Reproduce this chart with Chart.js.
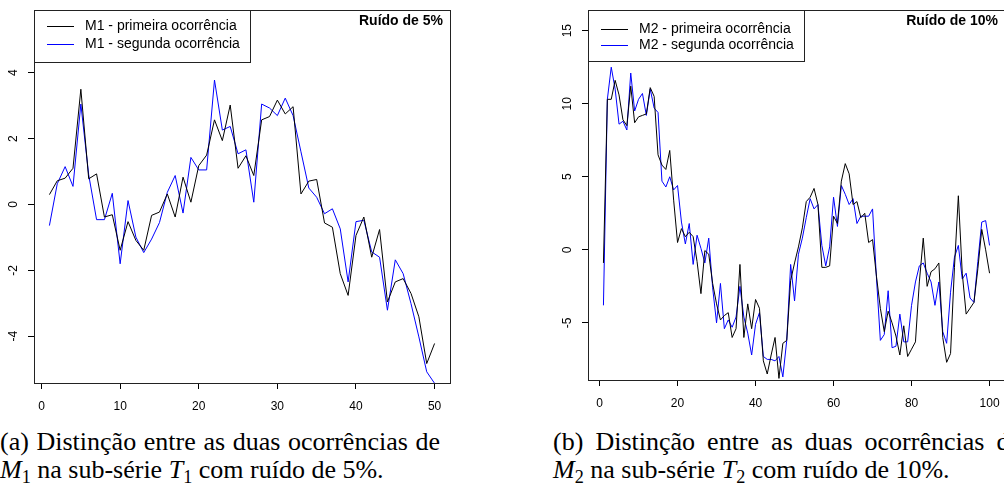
<!DOCTYPE html>
<html>
<head>
<meta charset="utf-8">
<script src="https://cdn.jsdelivr.net/npm/chart.js@4.4.1/dist/chart.umd.min.js"></script>
<style>
  body { margin: 0; width: 1004px; height: 489px; overflow: hidden; background: #fff; position: relative; }
  canvas { position: absolute; top: 0; }
  .cap { position: absolute; font-family: "Liberation Serif", "Times New Roman", serif; font-size: 26px; line-height: 28px; color: #000; }
  .cap sub { font-size: 70%; vertical-align: -0.25em; line-height: 0; }
  .j { text-align: justify; text-align-last: justify; }
</style>
</head>
<body>
<canvas id="c1" width="500" height="420" style="left:0"></canvas>
<canvas id="c2" width="500" height="420" style="left:520px"></canvas>

<div class="cap j" style="left:0;top:428px;width:440px">(a) Distinção entre as duas ocorrências de</div>
<div class="cap" style="left:0;top:456px;white-space:nowrap"><i>M</i><sub>1</sub> na sub-série <i>T</i><sub>1</sub> com ruído de 5%.</div>
<div class="cap j" style="left:553px;top:428px;width:468px">(b) Distinção entre as duas ocorrências de</div>
<div class="cap" style="left:553px;top:456px;white-space:nowrap"><i>M</i><sub>2</sub> na sub-série <i>T</i><sub>2</sub> com ruído de 10%.</div>

<script>
// ---- data ----
var xTicks1 = [0, 10, 20, 30, 40, 50];
var yTicks1 = [-4, -2, 0, 2, 4];
var m1First = [0.3, 0.72, 0.8, 1.1, 3.5, 0.78, 0.93, -0.38, -0.31, -1.39,
  -0.52, -1.09, -1.39, -0.33, -0.23, 0.32, -0.38, 0.83, 0.07, 1.18,
  1.5, 2.57, 1.94, 3.02, 1.1, 1.48, 0.88, 2.57, 2.67, 3.17,
  2.75, 2.97, 0.32, 0.71, 0.76, -0.56, -0.69, -2.1, -2.76, -0.94,
  -0.38, -1.6, -0.76, -2.96, -2.35, -2.25, -2.7, -3.41, -4.83, -4.22];
var m1Second = [-0.64, 0.63, 1.15, 0.55, 3.05, 0.9, -0.46, -0.46, 0.34, -1.8,
  0.12, -0.99, -1.46, -1.05, -0.55, 0.37, 0.88, -0.26, 1.43, 1.05,
  1.05, 3.78, 2.26, 2.37, 1.54, 1.66, 0.07, 3.05, 2.93, 2.7,
  3.23, 2.7, 1.6, 0.5, 0.22, -0.28, -0.13, -0.74, -2.35, -0.52,
  -0.48, -1.44, -1.6, -3.21, -1.68, -2.1, -3.01, -4.02, -5.08, -5.43];

var xTicks2 = [0, 20, 40, 60, 80, 100];
var yTicks2 = [-5, 0, 5, 10, 15];
var m2First = [-0.9, 10.3, 10.3, 11.6, 10.6, 8.9, 8.5, 11.2, 8.7, 9.1,
  9.2, 9.3, 11.1, 10.5, 6.5, 5.8, 5.5, 6.8, 3.4, 0.5,
  1.45, 0.9, 1.2, 0.9, -0.8, -3.0, -0.05, -0.3, -2.3, -3.7,
  -4.8, -4.5, -4.3, -6.0, -5.4, -1.0, -6.0, -3.7, -5.4, -3.4,
  -4.0, -7.6, -8.5, -7.2, -6.0, -8.8, -6.4, -6.2, -2.1, -0.9,
  0.2, 1.5, 3.3, 3.6, 4.2, 3.1, -1.2, -1.2, -1.1, 2.3,
  1.8, 4.7, 5.9, 5.2, 3.1, 3.3, 2.2, 2.5, 0.5, 0.7,
  -1.8, -4.0, -5.6, -4.2, -5.0, -5.9, -7.2, -5.2, -7.3, -6.8,
  -6.3, -2.2, 0.8, -2.5, -1.5, -1.3, -0.9, -6.0, -7.7, -7.1,
  -1.2, 3.7, -1.6, -4.4, -4.0, -3.6, -1.3, 1.4, 0.0, -1.6];
var m2Second = [-3.8, 10.3, 12.5, 11.0, 8.6, 8.8, 8.2, 12.1, 9.5, 10.3,
  10.7, 9.2, 11.0, 9.7, 9.4, 4.7, 4.3, 5.0, 4.1, 4.4,
  1.9, 0.4, 1.8, -1.0, 1.0, 0.1, -0.9, 0.8, -2.6, -5.0,
  -2.3, -5.4, -4.8, -5.3, -4.6, -2.5, -4.6, -5.7, -7.2, -5.1,
  -4.3, -7.3, -7.5, -7.5, -7.6, -7.3, -8.7, -6.2, -1.0, -3.5,
  -0.3, 0.8, 2.2, 3.5, 2.8, 3.1, 0.3, -1.1, 0.2, 3.6,
  1.6, 4.4, 3.8, 3.1, 3.5, 1.8, 2.3, 2.3, 2.3, 2.8,
  -1.9, -6.2, -5.8, -2.8, -6.7, -6.6, -4.4, -6.3, -6.3, -3.8,
  -2.2, -1.1, -0.9, -1.6, -2.2, -3.8, -2.2, -5.6, -6.4, -2.9,
  -0.5, 0.3, -2.0, -1.6, -3.3, -3.6, -0.8, 1.9, 2.0, 0.3];

var FONT = '"Liberation Sans", Arial, sans-serif';

function pts(arr) {
  return arr.map(function (v, i) { return { x: i + 1, y: v }; });
}

// box, rotated y labels, legend and title in the R style
var rFrame = {
  id: 'rFrame',
  afterDraw: function (chart, args, o) {
    var ctx = chart.ctx, a = chart.chartArea;
    var L = Math.round(a.left) + 0.5, T = Math.round(a.top) + 0.5;
    ctx.save();
    ctx.strokeStyle = '#222';
    ctx.lineWidth = 1;
    ctx.strokeRect(L, T, Math.round(a.right - a.left), Math.round(a.bottom - a.top));

    var ys = chart.scales.y;
    ctx.fillStyle = '#000';
    ctx.font = '12px ' + FONT;
    ctx.textAlign = 'center';
    ctx.textBaseline = 'middle';
    ys.ticks.forEach(function (t) {
      ctx.save();
      ctx.translate(o.labelX, ys.getPixelForValue(t.value));
      ctx.rotate(-Math.PI / 2);
      ctx.fillText(String(t.value), 0, 0);
      ctx.restore();
    });

    // legend
    ctx.fillStyle = '#fff';
    ctx.fillRect(L, T, o.legW, o.legH);
    ctx.strokeStyle = '#222';
    ctx.strokeRect(L, T, o.legW, o.legH);
    ctx.font = '14px ' + FONT;
    ctx.textAlign = 'left';
    chart.data.datasets.forEach(function (d, i) {
      var yy = Math.round(a.top + o.legY[i]) + 0.5;
      ctx.strokeStyle = d.borderColor;
      ctx.beginPath();
      ctx.moveTo(a.left + 13, yy);
      ctx.lineTo(a.left + 40, yy);
      ctx.stroke();
      ctx.fillStyle = '#000';
      ctx.fillText(d.label, a.left + 51, yy);
    });

    ctx.font = 'bold 14px ' + FONT;
    ctx.textAlign = 'right';
    ctx.fillText(o.title, a.right - 7, a.top + 11);
    ctx.restore();
  }
};

function makeChart(id, opt) {
  return new Chart(document.getElementById(id), {
    type: 'line',
    data: {
      datasets: [
        { label: opt.names[0], data: pts(opt.first), borderColor: '#000', borderWidth: 1, pointRadius: 0, tension: 0, fill: false },
        { label: opt.names[1], data: pts(opt.second), borderColor: '#0000ff', borderWidth: 1, pointRadius: 0, tension: 0, fill: false }
      ]
    },
    options: {
      responsive: false,
      animation: false,
      events: [],
      layout: { padding: opt.padding },
      plugins: {
        legend: { display: false },
        tooltip: { enabled: false },
        rFrame: { labelX: opt.labelX, legW: 216, legH: opt.legH, legY: opt.legY, title: opt.title }
      },
      scales: {
        x: {
          type: 'linear',
          min: opt.xMin, max: opt.xMax,
          afterBuildTicks: function (s) { s.ticks = opt.xTicks.map(function (v) { return { value: v }; }); },
          afterFit: function (s) { s.height = opt.xH; },
          grid: { drawOnChartArea: false, drawTicks: true, tickLength: 6, color: '#000' },
          border: { display: false },
          ticks: { color: '#000', padding: 10, maxRotation: 0, autoSkip: false, font: { size: 12, family: FONT } }
        },
        y: {
          type: 'linear',
          min: opt.yMin, max: opt.yMax,
          afterBuildTicks: function (s) { s.ticks = opt.yTicks.map(function (v) { return { value: v }; }); },
          afterFit: function (s) { s.width = opt.yW; },
          grid: { drawOnChartArea: false, drawTicks: true, tickLength: 6, color: '#000' },
          border: { display: false },
          ticks: { color: 'rgba(0,0,0,0)', font: { size: 12, family: FONT } }
        }
      }
    },
    plugins: [rFrame]
  });
}

makeChart('c1', {
  names: ['M1 - primeira ocorrência', 'M1 - segunda ocorrência'],
  first: m1First, second: m1Second,
  xTicks: xTicks1, yTicks: yTicks1,
  xMin: -0.96, xMax: 51.96, yMin: -5.42, yMax: 5.9,
  padding: { left: 0, right: 50, top: 9, bottom: 0 },
  xH: 37, yW: 34, labelX: 14,
  legH: 52, legY: [16, 34],
  title: 'Ruído de 5%'
});

makeChart('c2', {
  names: ['M2 - primeira ocorrência', 'M2 - segunda ocorrência'],
  first: m2First, second: m2Second,
  xTicks: xTicks2, yTicks: yTicks2,
  xMin: -2.96, xMax: 103.96, yMin: -8.91, yMax: 16.4,
  padding: { left: 0, right: 15, top: 7, bottom: 0 },
  xH: 40, yW: 68, labelX: 48,
  legH: 51, legY: [19, 35],
  title: 'Ruído de 10%'
});
</script>
</body>
</html>
